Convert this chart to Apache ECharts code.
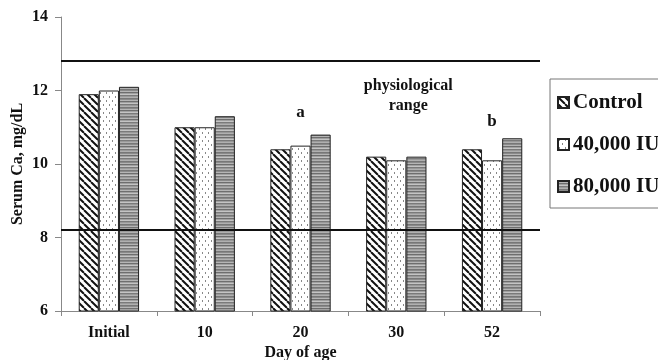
<!DOCTYPE html>
<html><head><meta charset="utf-8">
<script src="https://cdn.jsdelivr.net/npm/echarts@6/dist/echarts.min.js"></script>
<style>html,body{margin:0;padding:0;background:#fff}#c{width:658px;height:360px}</style>
</head><body><div id="c"></div>
<script>
const categories = ['Initial', '10', '20', '30', '52'];
const seriesNames = ['Control', '40,000 IU', '80,000 IU'];
const controlVals = [11.9, 11.0, 10.4, 10.2, 10.4];
const iu40Vals = [12.0, 11.0, 10.5, 10.1, 10.1];
const iu80Vals = [12.1, 11.3, 10.8, 10.2, 10.7];
const rangeHigh = 12.8;
const rangeLow = 8.2;
const yTicks = [6, 8, 10, 12, 14];

function mk(w, h, draw) {
  const c = document.createElement('canvas');
  c.width = w; c.height = h;
  const g = c.getContext('2d');
  g.fillStyle = '#fff'; g.fillRect(0, 0, w, h);
  draw(g);
  return c;
}
const hatch = mk(7, 7, g => {
  g.strokeStyle = '#111'; g.lineWidth = 2;
  for (let k = -7; k <= 14; k += 7) {
    g.beginPath(); g.moveTo(k, 0); g.lineTo(k + 7, 7); g.stroke();
  }
});
const dots = mk(6, 8, g => {
  g.fillStyle = '#888';
  g.fillRect(1, 0, 1, 2);
  g.fillRect(4, 4, 1, 2);
});
const stripes = mk(4, 9, g => {
  const cols = ['#8a8a8a', '#b5b5b5', '#6e6e6e', '#a0a0a0', '#c4c4c4', '#7a7a7a', '#999', '#b0b0b0', '#777'];
  cols.forEach((c, i) => { g.fillStyle = c; g.fillRect(0, i, 4, 1); });
});
const pats = [hatch, dots, stripes].map(c => ({ image: c, repeat: 'repeat' }));
const font = 'Liberation Serif';
const chart = echarts.init(document.getElementById('c'));
const vals = [controlVals, iu40Vals, iu80Vals];
chart.setOption({
  animation: false,
  grid: { left: 61, right: 118, top: 17, bottom: 49, containLabel: false, outerBoundsMode: 'none' },
  legend: {
    orient: 'vertical', left: 550, top: 79,
    padding: [13, 40, 11, 7], itemGap: 21,
    borderColor: '#777', borderWidth: 1,
    itemWidth: 11, itemHeight: 11, icon: 'rect',
    textStyle: { fontFamily: font, fontWeight: 'bold', fontSize: 21, color: '#111', padding: [0, 0, 0, -1] },
    data: seriesNames
  },
  xAxis: {
    type: 'category', data: categories,
    name: 'Day of age', nameLocation: 'middle', nameGap: 34, nameMoveOverlap: false,
    nameTextStyle: { fontFamily: font, fontWeight: 'bold', fontSize: 16, color: '#111' },
    axisLine: { lineStyle: { color: '#888' } },
    axisTick: { show: true, length: 5, lineStyle: { color: '#888' } },
    axisLabel: { fontFamily: font, fontWeight: 'bold', fontSize: 16, color: '#111', margin: 14 }
  },
  yAxis: {
    type: 'value', min: 6, max: 14, interval: 2,
    name: 'Serum Ca, mg/dL', nameLocation: 'middle', nameGap: 35, nameMoveOverlap: false,
    nameTextStyle: { fontFamily: font, fontWeight: 'bold', fontSize: 16, color: '#111' },
    axisLine: { show: true, lineStyle: { color: '#888' } },
    axisTick: { show: true, length: 6, lineStyle: { color: '#888' } },
    splitLine: { show: false },
    axisLabel: { fontFamily: font, fontWeight: 'bold', fontSize: 16, color: '#111', margin: 13,
      formatter: v => yTicks.includes(v) ? String(v) : '' }
  },
  series: seriesNames.map((n, i) => ({
    name: n, type: 'bar', data: vals[i],
    barGap: '0%', barCategoryGap: '37%',
    itemStyle: { color: pats[i], borderColor: '#222', borderWidth: 1 },
    markLine: i === 0 ? {
      symbol: 'none', silent: true,
      lineStyle: { color: '#111', width: 2, type: 'solid' },
      label: { show: false },
      data: [{ yAxis: rangeHigh }, { yAxis: rangeLow }]
    } : undefined,
    markPoint: i === 1 ? {
      symbol: 'rect', symbolSize: 0,
      label: { show: true, fontFamily: font, fontWeight: 'bold', fontSize: 17, color: '#111', position: 'inside' },
      data: [
        { coord: ['20', 11.4], value: 'a', label: { formatter: 'a' } },
        { coord: ['52', 11.15], value: 'b', label: { formatter: 'b' } },
        { coord: ['30', 11.85], value: 'p', label: { formatter: 'physiological\nrange', fontSize: 16, lineHeight: 20, offset: [12, 0] } }
      ]
    } : undefined
  }))
});
</script></body></html>
